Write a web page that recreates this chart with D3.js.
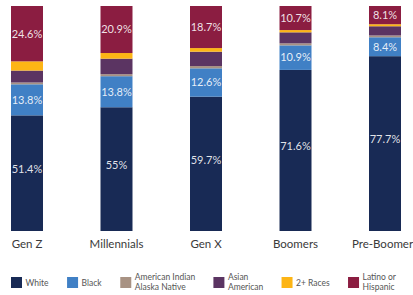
<!DOCTYPE html>
<html>
<head>
<meta charset="utf-8">
<script src="https://cdn.jsdelivr.net/npm/d3@7"></script>
<style>
  body { margin: 0; background: #fff; }
  svg { display: block; font-family: Lato, "Open Sans", sans-serif; }
</style>
</head>
<body>
<div id="chart"></div>
<script>
// generations on the x axis
var generations = ["Gen Z", "Millennials", "Gen X", "Boomers", "Pre-Boomers"];
// race / ethnicity groups, bottom to top
var groups = ["White", "Black", "American Indian Alaska Native", "Asian American", "2+ Races", "Latino or Hispanic"];
var legendLines = [["White"], ["Black"], ["American Indian", "Alaska Native"], ["Asian", "American"], ["2+ Races"], ["Latino or", "Hispanic"]];
var colors = ["#182a55", "#4080c5", "#a89283", "#5b3462", "#fdb515", "#8b1d41"];

// shares in percent, one value per generation
var white  = [51.4, 55.0, 59.7, 71.6, 77.7];
var black  = [13.8, 13.8, 12.6, 10.9, 8.4];
var aian   = [0.8, 0.9, 1.0, 0.9, 0.8];
var asian  = [5.3, 6.9, 6.4, 4.9, 4.1];
var multi  = [4.1, 2.5, 1.6, 1.0, 0.9];
var latino = [24.6, 20.9, 18.7, 10.7, 8.1];

// which groups get a value label
var labelled = ["White", "Black", "Latino or Hispanic"];

var width = 413, height = 295;

var svg = d3.select("#chart").append("svg")
    .attr("width", width)
    .attr("height", height);

var table = generations.map(function(g, i){
    return {
        gen: g,
        "White": white[i],
        "Black": black[i],
        "American Indian Alaska Native": aian[i],
        "Asian American": asian[i],
        "2+ Races": multi[i],
        "Latino or Hispanic": latino[i]
    };
});

var series = d3.stack().keys(groups)(table);

// Scales
var x = d3.scaleBand()
    .domain(generations)
    .range([11, 401])
    .paddingInner(0.6425)
    .paddingOuter(0);

var y = d3.scaleLinear()
    .domain([0, 100])
    .range([231, 6]);

var color = d3.scaleOrdinal().domain(groups).range(colors);

var layers = svg.selectAll(".layer")
    .data(series)
    .enter().append("g")
    .attr("class", "layer")
    .attr("fill", function(d){ return color(d.key); });

layers.selectAll("rect")
    .data(function(d){ return d; })
    .enter().append("rect")
    .attr("x", function(d){ return x(d.data.gen); })
    .attr("y", function(d){ return y(d[1]); })
    .attr("width", x.bandwidth())
    .attr("height", function(d){ return y(d[0]) - y(d[1]); });

// value labels
layers.filter(function(d){ return labelled.indexOf(d.key) >= 0; })
    .selectAll("text")
    .data(function(d){ return d.map(function(p){ return { p: p, key: d.key }; }); })
    .enter().append("text")
    .attr("x", function(d){ return x(d.p.data.gen) + x.bandwidth() / 2; })
    .attr("y", function(d){
        var mid = (y(d.p[0]) + y(d.p[1])) / 2;
        return d.key === "White" ? mid - 4 : mid;
    })
    .attr("dy", "0.35em")
    .attr("text-anchor", "middle")
    .attr("font-size", "11px")
    .attr("fill", "#fff")
    .attr("fill-opacity", 0.88)
    .text(function(d){ return d3.format("")(d.p.data[d.key]) + "%"; });

// x axis labels
var xAxis = svg.append("g")
    .attr("transform", "translate(0,231)")
    .call(d3.axisBottom(x).tickSize(0).tickPadding(9));
xAxis.select(".domain").remove();
xAxis.selectAll("text")
    .attr("font-family", "Lato, sans-serif")
    .attr("font-size", "11.5px")
    .attr("fill", "#3a3a3a");

// legend
var legend = svg.append("g").attr("class", "legend");
var lx = 11;
groups.forEach(function(g, i){
    var item = legend.append("g").attr("transform", "translate(" + lx + ",277)");
    item.append("rect")
        .attr("width", 11)
        .attr("height", 11)
        .attr("fill", color(g));
    var t = item.append("text")
        .attr("x", 14.5)
        .attr("font-size", "8.5px")
        .attr("fill", "#555");
    var lines = legendLines[i];
    lines.forEach(function(l, j){
        t.append("tspan")
            .attr("x", 14.5)
            .attr("y", lines.length === 1 ? 8.5 : 3 + j * 9.5)
            .text(l);
    });
    lx += 14.5 + t.node().getBBox().width + 18;
});
</script>
</body>
</html>
